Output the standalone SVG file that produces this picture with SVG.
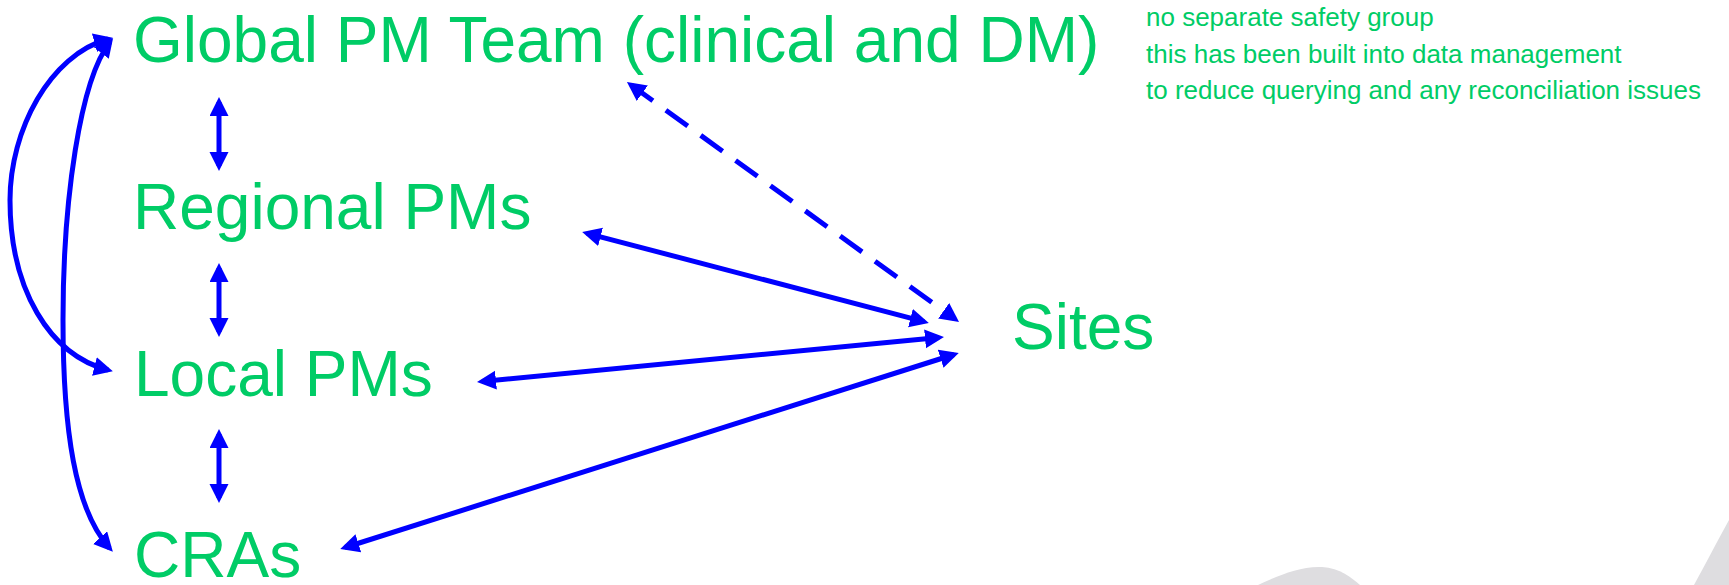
<svg xmlns="http://www.w3.org/2000/svg" width="1729" height="585" viewBox="0 0 1729 585">
<style>
.lbl{font-family:"Liberation Sans",Arial,sans-serif;fill:#00CC66;font-size:64px}
.note{font-family:"Liberation Sans",Arial,sans-serif;fill:#00CC66;font-size:26px}
.conn{fill:none;stroke:#0000FF;stroke-width:5;marker-start:url(#ah);marker-end:url(#ah)}
.dash{stroke-dasharray:27 16}
.wm{fill:#DEDDE0}
</style>
<defs>
<marker id="ah" markerUnits="userSpaceOnUse" markerWidth="20" markerHeight="20" refX="14" refY="9.5" orient="auto-start-reverse" viewBox="0 0 20 20">
<path d="M0,0 L19,9.5 L0,19 z" fill="#0000FF"/>
</marker>
</defs>
<rect width="1729" height="585" fill="#FFFFFF"/>
<g id="watermark">
<path class="wm" d="M1258,585 C1280,575 1300,566 1322,567 C1340,568 1352,578 1360,585 Z"/>
<path class="wm" d="M1694,585 C1705,565 1718,540 1729,520 L1729,585 Z"/>
</g>
<g id="connectors">
<path class="conn" d="M219,102 L219,166"/>
<path class="conn" d="M219,268 L219,332"/>
<path class="conn" d="M219,434 L219,498"/>
<path class="conn" d="M108,39 C50,55 10,130 10,200 C10,290 50,355 108,370"/>
<path class="conn" d="M110,42 C80,80 63,200 63,320 C63,430 75,510 109.5,548"/>
<path class="conn dash" d="M631,85 L955,319"/>
<path class="conn" d="M587,233.3 L924,321.7"/>
<path class="conn" d="M482,381.5 L939,337.5"/>
<path class="conn" d="M345,547.5 L954,354.5"/>
</g>
<g id="global"><text class="lbl" x="133" y="62">Global PM Team (clinical and DM)</text></g>
<g id="regional"><text class="lbl" x="133" y="229">Regional PMs</text></g>
<g id="local"><text class="lbl" x="134" y="396">Local PMs</text></g>
<g id="cras"><text class="lbl" x="134" y="577">CRAs</text></g>
<g id="sites"><text class="lbl" x="1012" y="349">Sites</text></g>
<g id="note">
<text class="note" x="1146" y="26">no separate safety group</text>
<text class="note" x="1146" y="62.5">this has been built into data management</text>
<text class="note" x="1146" y="99">to reduce querying and any reconciliation issues</text>
</g>
</svg>
